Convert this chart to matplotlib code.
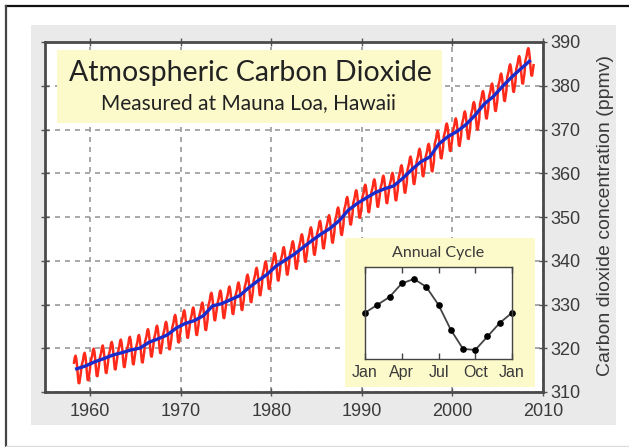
import numpy as np
import matplotlib
matplotlib.use("Agg")
import matplotlib.pyplot as plt
from matplotlib.patches import Rectangle
from matplotlib.lines import Line2D

# annual mean CO2 at Mauna Loa (ppmv), 1958-2008
years = list(range(1958, 2009))
annual_mean = [
    315.3, 315.97, 316.91, 317.64, 318.45, 318.99, 319.62, 320.04, 321.38, 322.16,
    323.04, 324.62, 325.68, 326.32, 327.45, 329.68, 330.18, 331.11, 332.04, 333.83,
    335.40, 336.84, 338.75, 340.11, 341.45, 343.05, 344.65, 346.12, 347.42, 349.19,
    351.57, 353.12, 354.39, 355.61, 356.45, 357.10, 358.83, 360.82, 362.61, 363.73,
    366.70, 368.38, 369.55, 371.14, 373.28, 375.80, 377.52, 379.80, 381.90, 383.79,
    385.60,
]

# seasonal anomaly by month (ppmv), Jan..Dec
months = ["Jan", "Feb", "Mar", "Apr", "May", "Jun",
          "Jul", "Aug", "Sep", "Oct", "Nov", "Dec"]
annual_cycle = [0.0, 0.7, 1.4, 2.6, 3.0, 2.3, 0.7, -1.5, -3.2, -3.3, -2.1, -0.9]

x_ticks = [1960, 1970, 1980, 1990, 2000, 2010]
y_ticks = [310, 320, 330, 340, 350, 360, 370, 380, 390]
inset_tick_labels = ["Jan", "Apr", "Jul", "Oct", "Jan"]

W, H = 629, 447
text_col = "#3a3a3a"
yellow = "#fcfacb"


def fx(px):
    return px / W


def fy(py):
    return 1 - py / H


def main():
    fig = plt.figure(figsize=(W / 100, H / 100), dpi=100)
    fig.patch.set_facecolor("white")

    # gray panel and frame
    fig.patches.append(Rectangle((fx(31), fy(425)), fx(585), 400 / H,
                                 transform=fig.transFigure, facecolor="#eaeaeb",
                                 edgecolor="none", zorder=-10))
    fig.add_artist(Line2D([fx(6), 1], [fy(6), fy(6)], color="#111111", lw=1.6))
    fig.add_artist(Line2D([fx(6), fx(6)], [fy(6), 0], color="#444444", lw=1.6))
    fig.add_artist(Line2D([fx(6), 1], [fy(446), fy(446)], color="#dddddd", lw=1))

    ax = fig.add_axes([fx(45), fy(392), fx(498), 350 / H])
    ax.set_facecolor("white")

    # monthly series = annual mean + seasonal anomaly
    t_month = []
    co2_month = []
    for year, mean in zip(years, annual_mean):
        for m, anom in enumerate(annual_cycle):
            if year == 1958 and m < 2:
                continue
            t_month.append(year + (m + 0.5) / 12)
            co2_month.append(mean + anom)

    ax.plot(t_month, co2_month, color="#ff2a1a", lw=1.8, zorder=3)
    ax.plot(np.array(years) + 0.5, annual_mean, color="#1a2ccc", lw=2.4, zorder=4)

    ax.set_xlim(1955, 2010)
    ax.set_ylim(310, 390)
    ax.set_xticks(x_ticks)
    ax.set_yticks(y_ticks)
    ax.grid(True, color="#9a9a9a", linestyle=(0, (3, 3)), lw=1.2)
    ax.set_axisbelow(True)
    ax.tick_params(axis="both", direction="inout", length=6, width=1,
                   colors="#555555", labelcolor=text_col, labelsize=13,
                   top=True, right=True, left=True, bottom=True,
                   labelleft=False, labelright=True)
    ax.tick_params(axis="x", pad=5)
    ax.tick_params(axis="y", pad=2)
    for lab in ax.get_xticklabels() + ax.get_yticklabels():
        lab.set_fontfamily("Liberation Sans")
    for s in ax.spines.values():
        s.set_color("#4a4a4a")
        s.set_linewidth(2)

    # title box
    ax.add_patch(Rectangle((fx(57), fy(123)), fx(385), 73 / H,
                           transform=fig.transFigure, facecolor=yellow,
                           edgecolor="none", zorder=2, clip_on=False))
    fig.text(fx(250), fy(73), "Atmospheric Carbon Dioxide", ha="center",
             va="center", fontsize=20.5, color="#222222", family="Lato")
    fig.text(fx(248), fy(103), "Measured at Mauna Loa, Hawaii", ha="center",
             va="center", fontsize=15, color="#222222", family="Lato")

    # inset box
    ax.add_patch(Rectangle((fx(345), fy(387)), fx(190), 149 / H,
                           transform=fig.transFigure, facecolor=yellow,
                           edgecolor="none", zorder=2, clip_on=False))
    fig.text(fx(438), fy(253), "Annual Cycle", ha="center", va="center",
             fontsize=11.5, color=text_col, family="Lato")

    fig.text(fx(605), fy(215), "Carbon dioxide concentration (ppmv)",
             rotation=90, ha="center", va="center", fontsize=14,
             color=text_col, family="Liberation Sans")

    ins = fig.add_axes([fx(365), fy(359), fx(147), 92 / H])
    ins.set_facecolor("white")
    cycle_vals = annual_cycle + [annual_cycle[0]]
    ins.plot(range(13), cycle_vals, color="#444444", lw=1.3,
             marker="o", markersize=3.8, markerfacecolor="black",
             markeredgecolor="black", clip_on=False)
    ins.set_xlim(0, 12)
    ins.set_ylim(-4.1, 4.06)
    ins.set_xticks([0, 3, 6, 9, 12])
    ins.set_xticklabels(inset_tick_labels, family="Liberation Sans")
    ins.set_yticks([])
    ins.tick_params(axis="x", direction="in", length=4, width=1, top=True,
                    colors="#444444", labelcolor=text_col, labelsize=11.5, pad=4)
    for s in ins.spines.values():
        s.set_color("#444444")
        s.set_linewidth(1)

    fig.savefig("out.png", dpi=100)


if __name__ == "__main__":
    main()
